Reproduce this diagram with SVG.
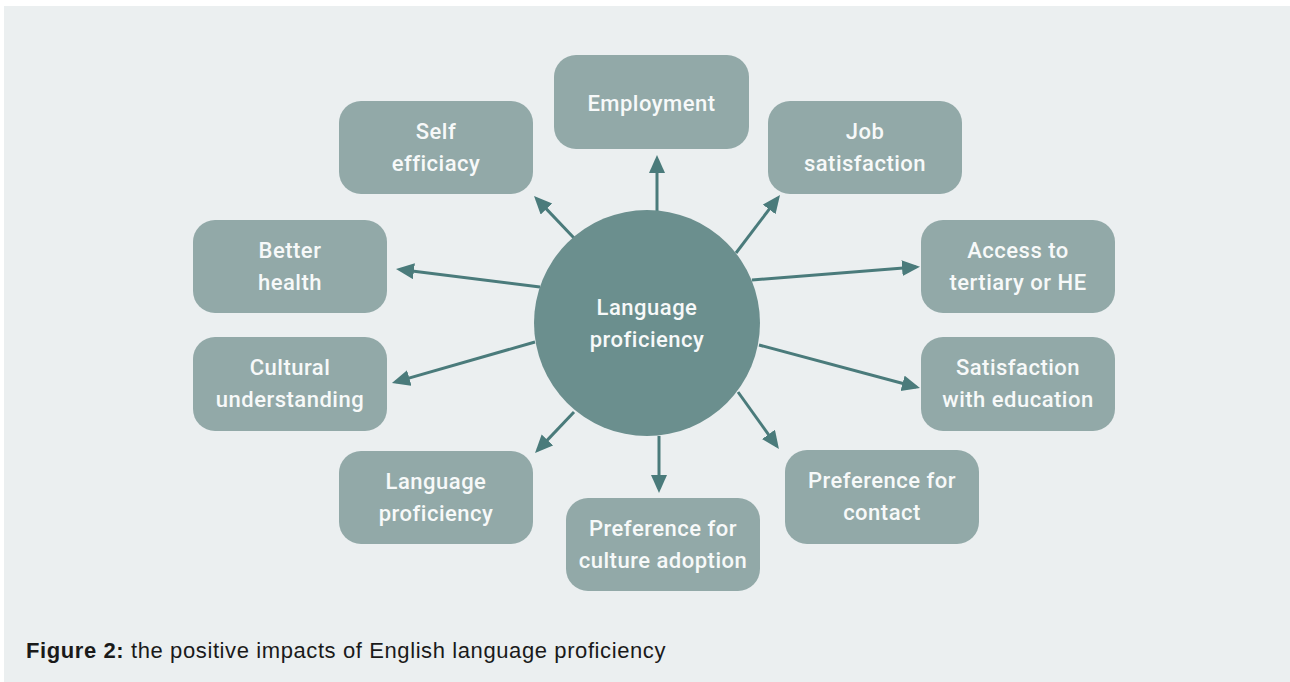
<svg xmlns="http://www.w3.org/2000/svg" width="1290" height="682" viewBox="0 0 1290 682">
<defs>
<style>
.box{fill:#92a9a8;}
.lbl{font-family:Roboto,"Liberation Sans",sans-serif;font-weight:500;font-size:22px;letter-spacing:0.5px;fill:#f7f9f9;text-anchor:middle;}
.conn{stroke:#4a7b7b;stroke-width:3;fill:none;marker-end:url(#ah);}
.cap{font-family:"Liberation Sans",Arial,sans-serif;font-size:22px;letter-spacing:0.6px;fill:#1a1a1a;}
</style>
<marker id="ah" markerUnits="userSpaceOnUse" markerWidth="20" markerHeight="18" refX="14" refY="8" orient="auto">
<path d="M0,0 L18,8 L0,16 z" fill="#4a7b7b"/>
</marker>
</defs>
<rect x="4" y="6" width="1286" height="676" fill="#ebeff0"/>
<g id="connectors">
<line class="conn" x1="574" y1="238" x2="536.8" y2="198.9"/>
<line class="conn" x1="540" y1="287" x2="400" y2="269.5"/>
<line class="conn" x1="736" y1="253" x2="777.6" y2="198.2"/>
<line class="conn" x1="752" y1="280" x2="916" y2="267"/>
<line class="conn" x1="535" y1="342" x2="395.8" y2="381.9"/>
<line class="conn" x1="574" y1="412" x2="537.8" y2="450.1"/>
<line class="conn" x1="657" y1="212" x2="657" y2="159"/>
<line class="conn" x1="659" y1="436" x2="659" y2="489"/>
<line class="conn" x1="759" y1="345" x2="916.1" y2="387"/>
<line class="conn" x1="738" y1="392" x2="776.6" y2="445.8"/>
</g>
<g id="center">
<circle cx="647" cy="323" r="113" fill="#6b8f8e"/>
<text class="lbl" x="647" y="315">Language</text>
<text class="lbl" x="647" y="347">proficiency</text>
</g>
<g id="employment">
<rect class="box" x="554" y="55" width="195" height="94" rx="22"/>
<text class="lbl" x="651.5" y="110.5">Employment</text>
</g>
<g id="self-efficiacy">
<rect class="box" x="339" y="101" width="194" height="93" rx="22"/>
<text class="lbl" x="436" y="138.5">Self</text>
<text class="lbl" x="436" y="170.5">efficiacy</text>
</g>
<g id="job-satisfaction">
<rect class="box" x="768" y="101" width="194" height="93" rx="22"/>
<text class="lbl" x="865" y="138.5">Job</text>
<text class="lbl" x="865" y="170.5">satisfaction</text>
</g>
<g id="better-health">
<rect class="box" x="193" y="220" width="194" height="93" rx="22"/>
<text class="lbl" x="290" y="257.5">Better</text>
<text class="lbl" x="290" y="289.5">health</text>
</g>
<g id="access">
<rect class="box" x="921" y="220" width="194" height="93" rx="22"/>
<text class="lbl" x="1018" y="257.5">Access to</text>
<text class="lbl" x="1018" y="289.5">tertiary or HE</text>
</g>
<g id="cultural">
<rect class="box" x="193" y="337" width="194" height="94" rx="22"/>
<text class="lbl" x="290" y="375">Cultural</text>
<text class="lbl" x="290" y="407">understanding</text>
</g>
<g id="satisfaction-education">
<rect class="box" x="921" y="337" width="194" height="94" rx="22"/>
<text class="lbl" x="1018" y="375">Satisfaction</text>
<text class="lbl" x="1018" y="407">with education</text>
</g>
<g id="language-proficiency">
<rect class="box" x="339" y="451" width="194" height="93" rx="22"/>
<text class="lbl" x="436" y="488.5">Language</text>
<text class="lbl" x="436" y="520.5">proficiency</text>
</g>
<g id="preference-contact">
<rect class="box" x="785" y="450" width="194" height="94" rx="22"/>
<text class="lbl" x="882" y="488">Preference for</text>
<text class="lbl" x="882" y="520">contact</text>
</g>
<g id="preference-culture">
<rect class="box" x="566" y="498" width="194" height="93" rx="22"/>
<text class="lbl" x="663" y="535.5">Preference for</text>
<text class="lbl" x="663" y="567.5">culture adoption</text>
</g>
<text class="cap" x="26" y="658"><tspan font-weight="bold">Figure 2:</tspan> the positive impacts of English language proficiency</text>
</svg>
